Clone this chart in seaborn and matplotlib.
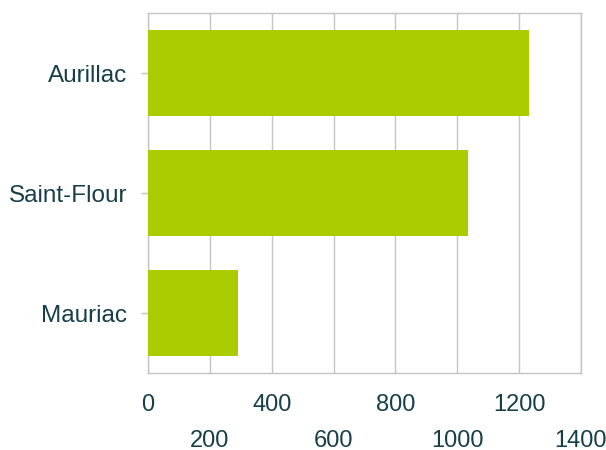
import matplotlib
matplotlib.use("Agg")
import matplotlib.pyplot as plt
import seaborn as sns
import pandas as pd
from matplotlib.ticker import FixedLocator, FixedFormatter

# Data
cities = ["Aurillac", "Saint-Flour", "Mauriac"]
values = [1232, 1035, 291]

# Staggered x tick labels: top row and bottom row
top_ticks = [0, 400, 800, 1200]
bottom_ticks = [200, 600, 1000, 1400]

bar_color = "#AACC00"
text_color = "#173F49"
grid_color = "#C4C4C4"

df = pd.DataFrame({"city": cities, "value": values})

sns.set_style("white")
plt.rcParams["font.family"] = ["Liberation Sans", "DejaVu Sans"]

fig = plt.figure(figsize=(6.06, 4.5), dpi=100)
ax = fig.add_axes([0.2442, 0.1711, 0.7145, 0.80])

sns.barplot(data=df, x="value", y="city", orient="h", color=bar_color,
            saturation=1, width=0.71, linewidth=0, ax=ax, zorder=3)

ax.set_xlim(0, 1400)
ax.set_ylim(2.5, -0.5)

# major ticks -> first label row, minor ticks -> second label row
ax.xaxis.set_major_locator(FixedLocator(top_ticks))
ax.xaxis.set_major_formatter(FixedFormatter([str(t) for t in top_ticks]))
ax.xaxis.set_minor_locator(FixedLocator(bottom_ticks))
ax.xaxis.set_minor_formatter(FixedFormatter([str(t) for t in bottom_ticks]))
ax.tick_params(axis="x", which="major", length=0, pad=15, labelsize=17, labelcolor=text_color)
ax.tick_params(axis="x", which="minor", length=0, pad=41, labelsize=17, labelcolor=text_color)
ax.tick_params(axis="y", length=5, width=1, color=grid_color, pad=10,
               labelsize=17.5, labelcolor=text_color, left=True)

ax.grid(True, axis="x", which="both", color=grid_color, linewidth=1, zorder=0)
ax.set_axisbelow(True)

for side in ["left", "right", "top", "bottom"]:
    ax.spines[side].set_visible(True)
    ax.spines[side].set_color(grid_color)
    ax.spines[side].set_linewidth(1)

ax.set_xlabel("")
ax.set_ylabel("")

fig.savefig("out.png", dpi=100)
